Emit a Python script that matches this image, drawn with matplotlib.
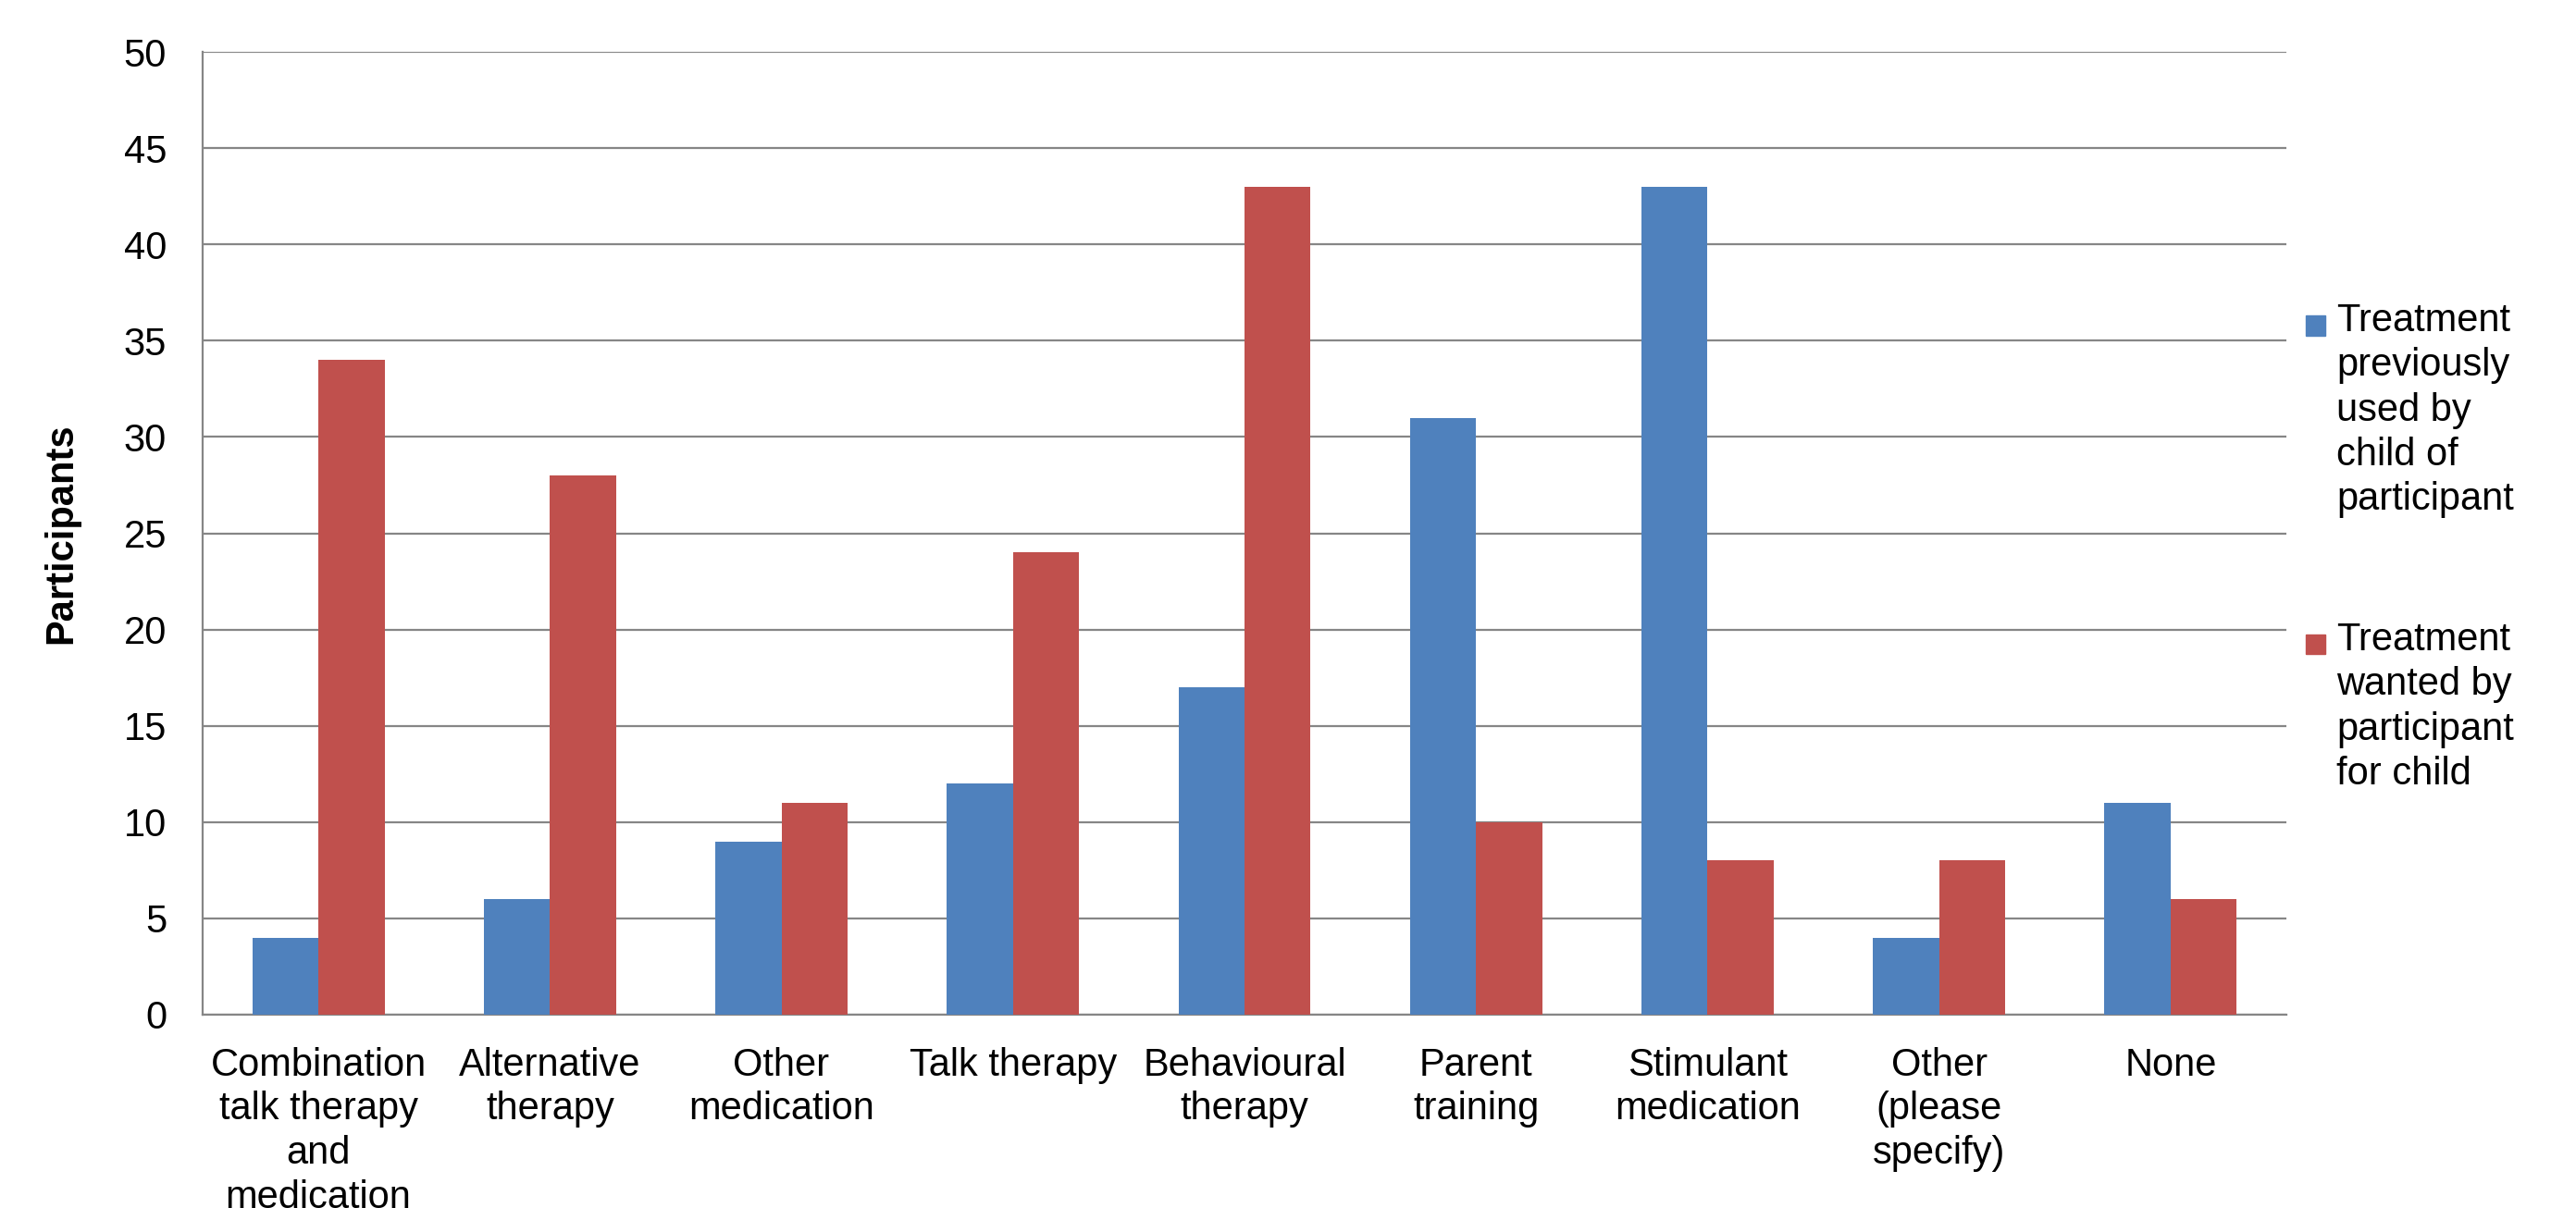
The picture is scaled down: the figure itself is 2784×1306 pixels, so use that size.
import numpy as np
import matplotlib
matplotlib.use("Agg")
import matplotlib.pyplot as plt
from matplotlib.patches import Rectangle

plt.rcParams['font.family'] = ['Liberation Sans', 'DejaVu Sans']

# treatment categories and participant counts
categories = ["Combination\ntalk therapy\nand\nmedication", "Alternative\ntherapy",
              "Other\nmedication", "Talk therapy", "Behavioural\ntherapy",
              "Parent\ntraining", "Stimulant\nmedication", "Other\n(please\nspecify)", "None"]
used_before = [4, 6, 9, 12, 17, 31, 43, 4, 11]
wanted = [34, 28, 11, 24, 43, 10, 8, 8, 6]
series_names = ["Treatment\npreviously\nused by\nchild of\nparticipant",
                "Treatment\nwanted by\nparticipant\nfor child"]
colors = ["#4F81BD", "#C0504D"]

W, H = 2784, 1306
fig = plt.figure(figsize=(W / 100, H / 100), dpi=100)
ax = fig.add_axes([219 / W, 1 - 1097 / H, (2471 - 219) / W, (1097 - 56) / H])

x = np.arange(len(categories))
bw = 1 / 3.5
ax.bar(x - bw / 2, used_before, bw, color=colors[0], zorder=3)
ax.bar(x + bw / 2, wanted, bw, color=colors[1], zorder=3)

ax.set_xlim(-0.5, len(categories) - 0.5)
ax.set_ylim(0, 50)
ax.set_yticks(range(0, 51, 5))
ax.yaxis.grid(True, color="#868686", linewidth=1.6, zorder=0)
ax.set_axisbelow(True)

for s in ["top", "right"]:
    ax.spines[s].set_visible(False)
for s in ["left", "bottom"]:
    ax.spines[s].set_color("#868686")
    ax.spines[s].set_linewidth(1.6)

ax.set_xticks(x)
ax.set_xticklabels(categories, fontsize=30, linespacing=1.25)
ax.tick_params(axis="x", length=0, pad=25)
ax.tick_params(axis="y", length=0, pad=28, labelsize=30)

ax.set_ylabel("Participants", fontsize=30, fontweight="bold", labelpad=34)

# legend drawn at the right of the plot
sq = 21
text_x = 2525 / W
for name, col, cy, top in zip(series_names, colors, [352, 696], [327, 672]):
    fig.add_artist(Rectangle((2492 / W, 1 - (cy + sq / 2) / H), sq / W, sq / H,
                             transform=fig.transFigure, color=col))
    fig.text(text_x, 1 - top / H, name, fontsize=30, va="top", ha="left",
             linespacing=1.27)

fig.savefig("out.png", dpi=100)
